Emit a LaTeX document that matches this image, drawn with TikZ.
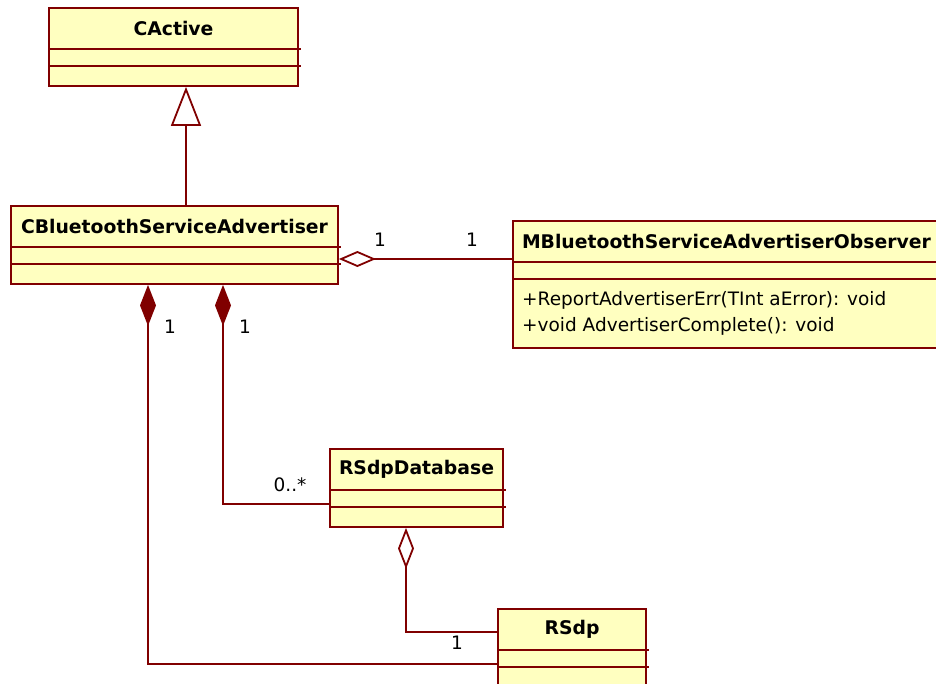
\documentclass[tikz,border=0pt]{standalone}
\usepackage{fontspec}
\setmainfont{DejaVu Sans}
\usetikzlibrary{arrows.meta}
\definecolor{umlline}{RGB}{128,0,0}
\definecolor{umlfill}{RGB}{255,255,192}

\tikzset{
	classbox/.style={draw=umlline, fill=umlfill, line width=1.8pt, inner sep=0pt},
	namebox/.style={inner sep=0pt, minimum height=42pt, font=\fontsize{18.8}{21}\selectfont\bfseries},
	divider/.style={draw=umlline, line width=2pt},
	assoc/.style={draw=umlline, line width=1.8pt},
	mult/.style={font=\fontsize{18.5}{21}\selectfont, inner sep=0pt},
	member/.style={font=\fontsize{18.5}{21}\selectfont, inner sep=0pt, anchor=west}
}

\begin{document}
\begin{tikzpicture}[x=1pt, y=-1pt]

	\clip (0,0) rectangle (936,683);

	% Class boxes
	\node [classbox, minimum width=249pt, minimum height=78pt] (cactive) at (173.5,47) {};
	\node [classbox, minimum width=327pt, minimum height=78pt] (advertiser) at (174.5,245) {};
	\node [classbox, minimum width=432pt, minimum height=127pt] (observer) at (729,284.5) {};
	\node [classbox, minimum width=173pt, minimum height=78pt] (sdpdb) at (416.5,488) {};
	\node [classbox, minimum width=148pt, minimum height=81pt] (sdp) at (572,649.5) {};

	% Class names
	\node [namebox, minimum width=249pt, anchor=north] (cactivename) at (cactive.north) {CActive};
	\node [namebox, minimum width=327pt, anchor=north] (advertisername) at (advertiser.north) {CBluetoothServiceAdvertiser};
	\node [namebox, minimum width=432pt, text width=414pt, align=left, anchor=north] (observername) at (observer.north) {MBluetoothServiceAdvertiserObserver};
	\node [namebox, minimum width=173pt, anchor=north] (sdpdbname) at (sdpdb.north) {RSdpDatabase};
	\node [namebox, minimum width=148pt, anchor=north] (sdpname) at (sdp.north) {RSdp};

	% Compartment lines
	\foreach \cname in {cactivename, advertisername, observername, sdpdbname, sdpname} {
		\draw [divider] ([yshift=0.5pt]\cname.south west) -- ([xshift=3pt, yshift=0.5pt]\cname.south east);
		\draw [divider] ([yshift=-16.5pt]\cname.south west) -- ([xshift=3pt, yshift=-16.5pt]\cname.south east);
	}

	% Operations
	\node [member] (reporterr) at (522,300) {+ReportAdvertiserErr(TInt aError): void};
	\node [member] (complete) at (522,326) {+void AdvertiserComplete(): void};

	% Bend points
	\coordinate (genx) at (186,0);
	\coordinate (obsy) at (0,259);
	\coordinate (compl) at (148,0);
	\coordinate (compr) at (223,0);
	\coordinate (sdplow) at (0,664);
	\coordinate (dby) at (0,504);
	\coordinate (aggx) at (406,0);
	\coordinate (sdpy) at (0,632);

	% Generalization
	\draw [assoc, -{Triangle[open, fill=white, length=39pt, width=30pt]}] (advertiser.north -| genx) -- (cactive.south -| genx);

	% Aggregations
	\draw [assoc, -{Diamond[open, fill=white, length=37pt, width=16pt]}] (observer.west |- obsy) -- (advertiser.east |- obsy);
	\draw [assoc, -{Diamond[open, fill=white, length=41pt, width=16pt]}] (sdp.west |- sdpy) -| (sdpdb.south -| aggx);

	% Compositions
	\draw [assoc, -{Diamond[length=41pt, width=16pt]}] (sdp.west |- sdplow) -| (advertiser.south -| compl);
	\draw [assoc, -{Diamond[length=41pt, width=16pt]}] (sdpdb.west |- dby) -| (advertiser.south -| compr);

	% Multiplicities
	\node [mult] (m1) at (170,327) {1};
	\node [mult] (m2) at (245,327) {1};
	\node [mult] (m3) at (380,240) {1};
	\node [mult] (m4) at (472,240) {1};
	\node [mult] (m5) at (290,485) {0..*};
	\node [mult] (m6) at (457,643) {1};

\end{tikzpicture}
\end{document}
